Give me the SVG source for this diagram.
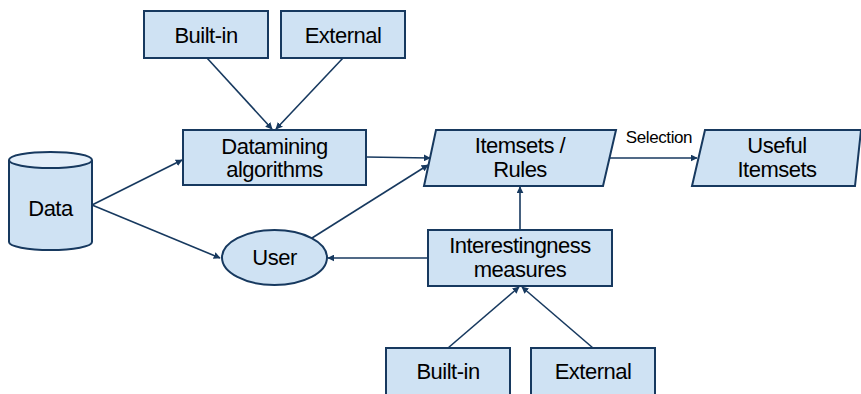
<svg xmlns="http://www.w3.org/2000/svg" width="861" height="394" viewBox="0 0 861 394">
<style>
.n{fill:#cfe2f3;stroke:#17395f;stroke-width:2}
.t{font-family:"Liberation Sans",Arial,sans-serif;font-size:22px;fill:#000;text-anchor:middle;letter-spacing:-0.5px}
.e{stroke:#17395f;stroke-width:1.6;fill:none;marker-end:url(#a)}
</style>
<defs>
<marker id="a" viewBox="0 0 10 10" refX="9" refY="5" markerWidth="7" markerHeight="7" orient="auto" markerUnits="userSpaceOnUse"><path d="M0,0 L10,5 L0,10 z" fill="#17395f"/></marker>
</defs>
<g id="edges">
<line class="e" x1="207" y1="58" x2="272" y2="129"/>
<line class="e" x1="343" y1="58" x2="276" y2="129"/>
<line class="e" x1="92" y1="205" x2="182" y2="160"/>
<line class="e" x1="92" y1="205" x2="220" y2="258"/>
<line class="e" x1="366" y1="157" x2="430" y2="158"/>
<line class="e" x1="312" y1="238" x2="428" y2="165"/>
<line class="e" x1="609" y1="158" x2="697" y2="158"/>
<line class="e" x1="520" y1="230" x2="520" y2="187"/>
<line class="e" x1="428" y1="258" x2="328" y2="258"/>
<line class="e" x1="448" y1="348" x2="519" y2="287"/>
<line class="e" x1="593" y1="348" x2="522" y2="287"/>
<text x="659" y="143" class="t" style="font-size:17px;letter-spacing:-0.4px">Selection</text>
</g>
<g id="data">
<path class="n" d="M9,160 L9,242 A41.5,8 0 0 0 92,242 L92,160"/>
<ellipse class="n" cx="50.5" cy="160" rx="41.5" ry="8" style="fill:#e3eef9"/>
<text x="50.5" y="216" class="t">Data</text>
</g>
<g id="builtin1"><rect class="n" x="144" y="11" width="124" height="47"/><text x="206" y="43" class="t">Built-in</text></g>
<g id="external1"><rect class="n" x="281" y="11" width="124" height="47"/><text x="343" y="43" class="t">External</text></g>
<g id="datamining"><rect class="n" x="183" y="130" width="183" height="55"/><text x="274.5" y="154" class="t">Datamining</text><text x="274.5" y="177" class="t">algorithms</text></g>
<g id="itemsets"><polygon class="n" points="436,130 616,130 603,186 424,186"/><text x="520" y="153" class="t">Itemsets /</text><text x="520" y="177" class="t">Rules</text></g>
<g id="useful"><polygon class="n" points="705,130 861,130 855,186 692,186"/><text x="777" y="153" class="t">Useful</text><text x="777" y="177" class="t">Itemsets</text></g>
<g id="user"><ellipse class="n" cx="274.5" cy="257.5" rx="52.5" ry="27.5"/><text x="274.5" y="265" class="t">User</text></g>
<g id="interest"><rect class="n" x="428" y="230" width="184" height="56"/><text x="520" y="253" class="t">Interestingness</text><text x="520" y="277" class="t">measures</text></g>
<g id="builtin2"><rect class="n" x="386" y="348" width="124" height="50"/><text x="448" y="379" class="t">Built-in</text></g>
<g id="external2"><rect class="n" x="531" y="348" width="124" height="50"/><text x="593" y="379" class="t">External</text></g>
</svg>
